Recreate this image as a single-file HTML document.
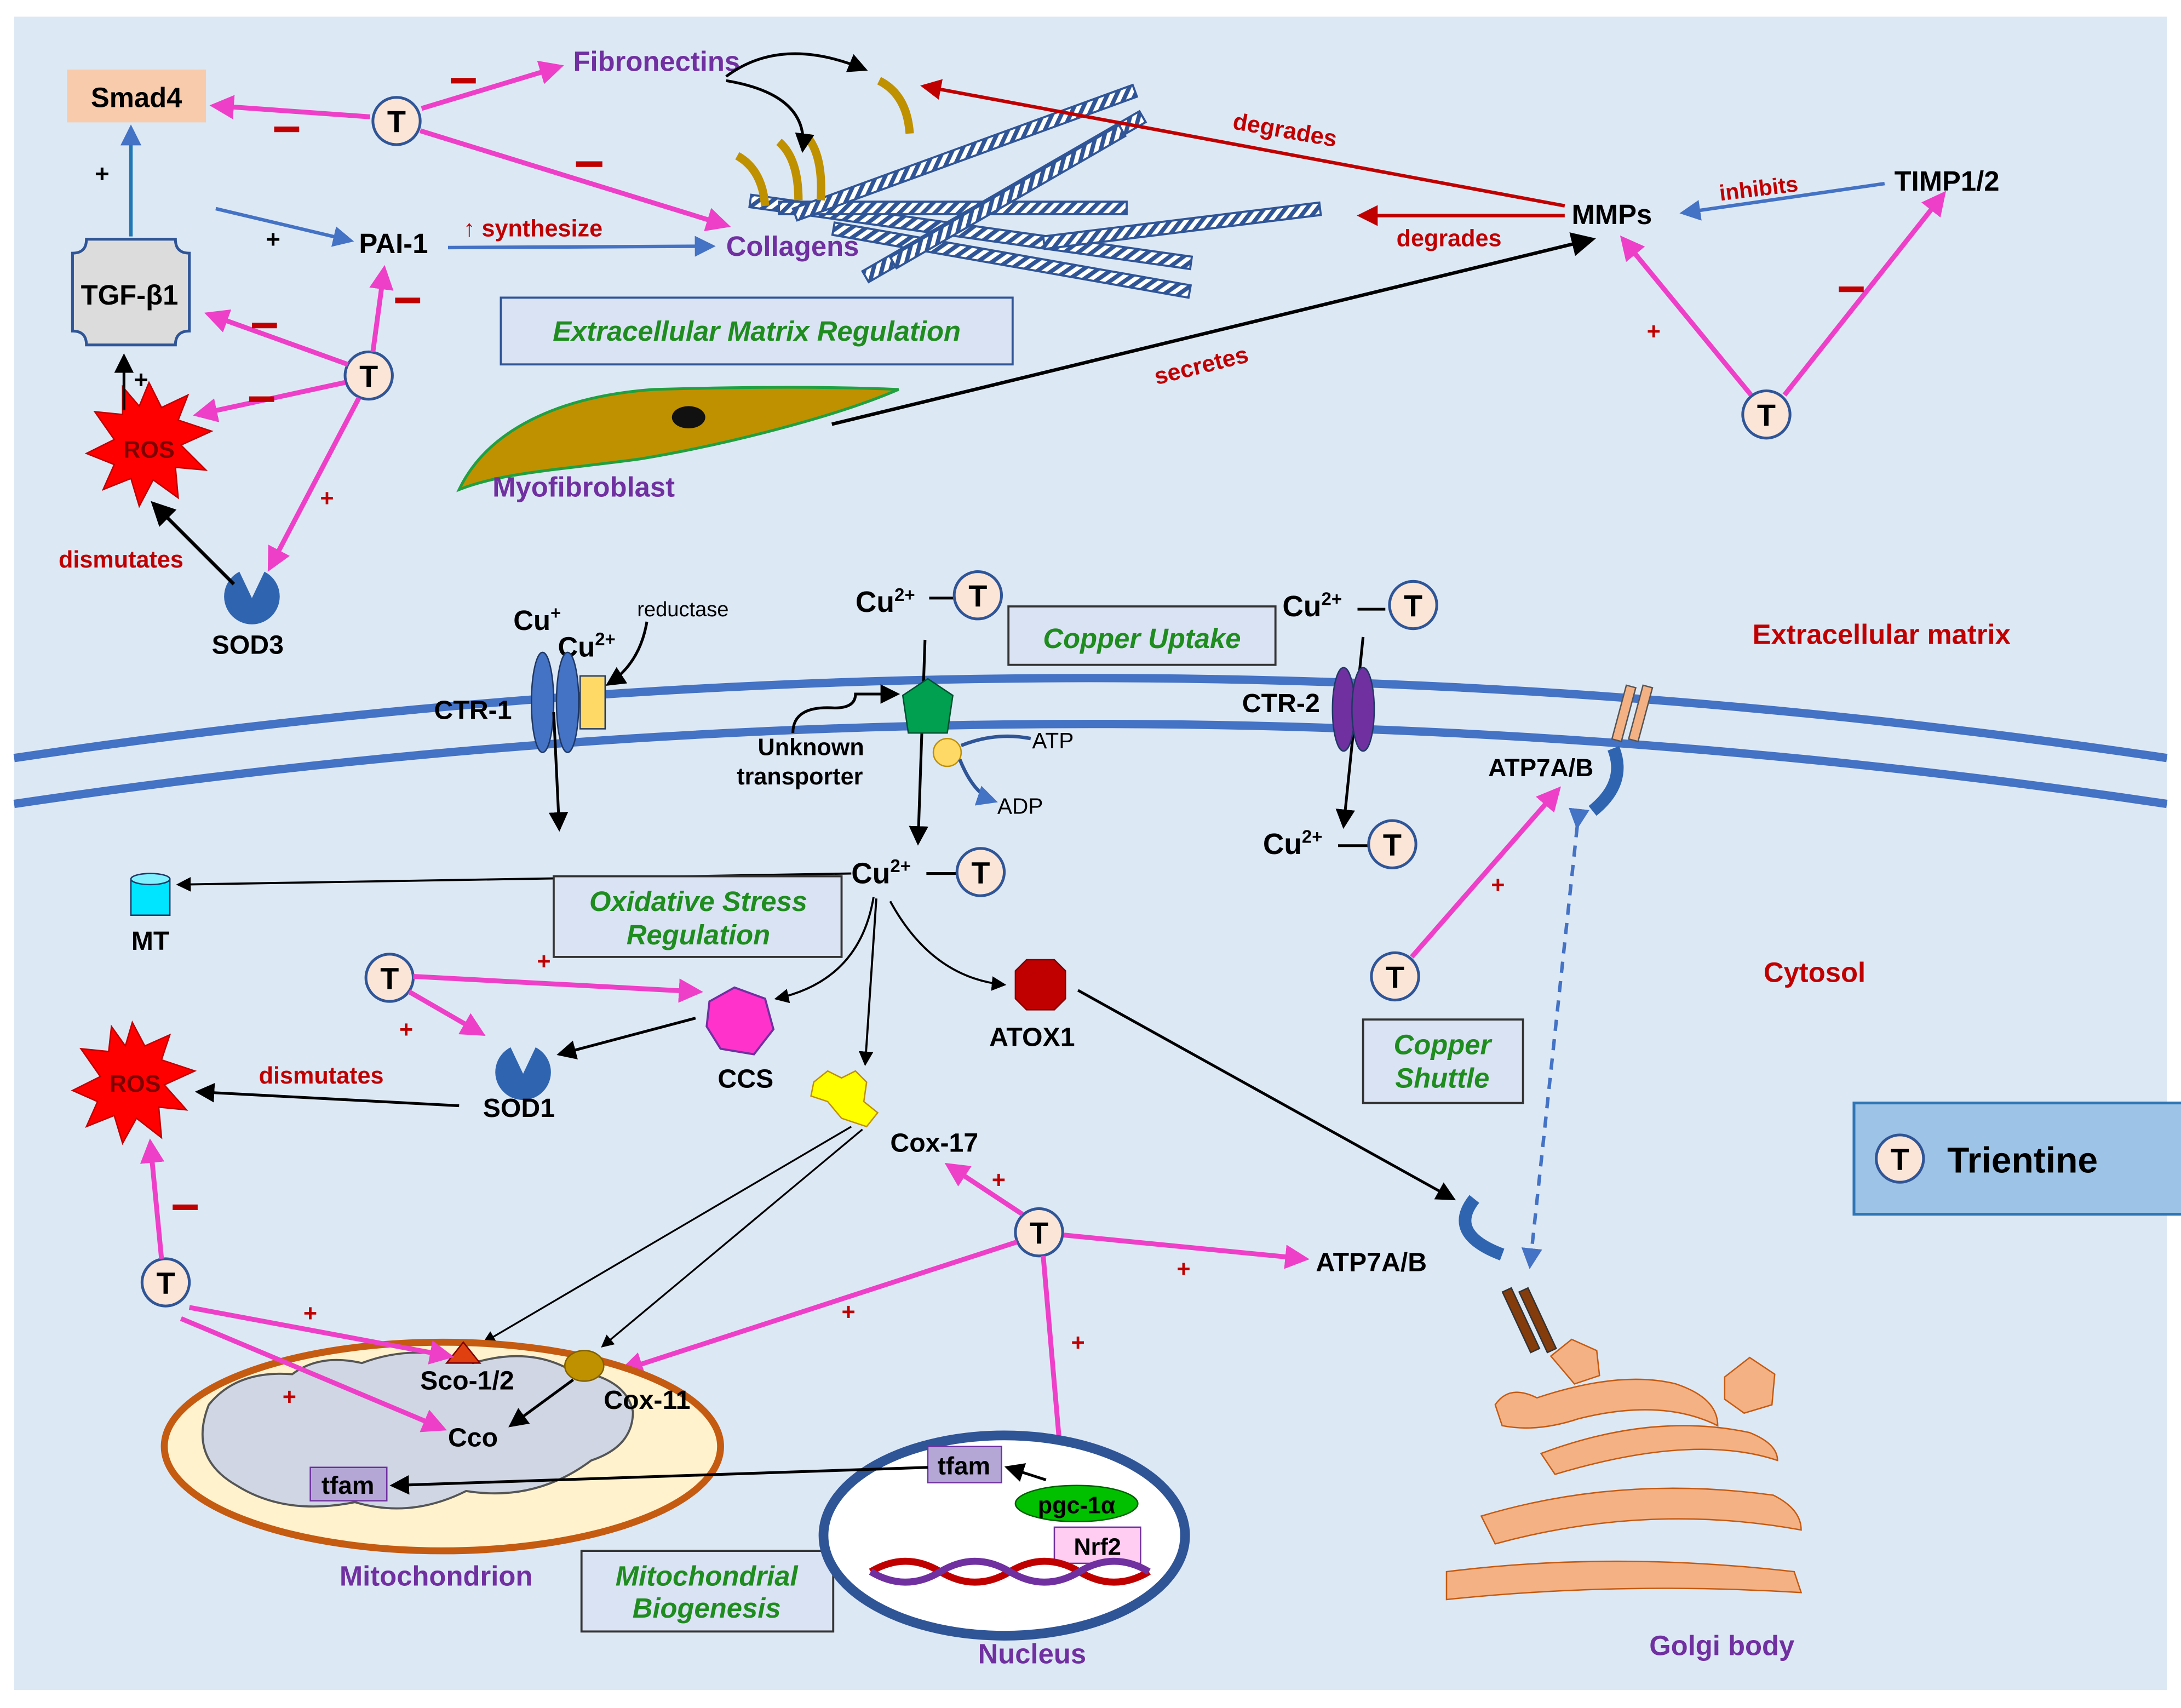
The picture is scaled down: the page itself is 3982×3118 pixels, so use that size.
<!DOCTYPE html>
<html><head><meta charset="utf-8"><style>
html,body{margin:0;padding:0;background:#fff}
svg{display:block}
text{font-family:"Liberation Sans",sans-serif}
.b{font-weight:bold}
.pk{stroke:#ee3fc8;stroke-width:3.5;fill:none}
.bk{stroke:#000;stroke-width:2;fill:none}
.bl{stroke:#4472c4;stroke-width:2.5;fill:none}
.rd{stroke:#c00000;stroke-width:2.5;fill:none}
.pur{fill:#7030a0;font-weight:bold}
.red{fill:#c00000;font-weight:bold}
.grn{fill:#1f8c1f;font-weight:bold;font-style:italic}
.minus{stroke:#c00000;stroke-width:4}
</style></head><body>
<svg width="3982" height="3118" viewBox="0 0 1568 1228" xmlns="http://www.w3.org/2000/svg">
<defs>
<marker id="ap" markerWidth="5" markerHeight="5" refX="4" refY="2.5" orient="auto" markerUnits="strokeWidth"><path d="M0,0 L5,2.5 L0,5 z" fill="#ee3fc8"/></marker>
<marker id="ab" markerWidth="7" markerHeight="7" refX="6" refY="3.5" orient="auto" markerUnits="strokeWidth"><path d="M0,0 L7,3.5 L0,7 z" fill="#000"/></marker>
<marker id="abl" markerWidth="6" markerHeight="6" refX="5" refY="3" orient="auto" markerUnits="strokeWidth"><path d="M0,0 L6,3 L0,6 z" fill="#4472c4"/></marker>
<marker id="ar" markerWidth="6" markerHeight="6" refX="5" refY="3" orient="auto" markerUnits="strokeWidth"><path d="M0,0 L6,3 L0,6 z" fill="#c00000"/></marker>
<pattern id="str" width="6" height="6" patternUnits="userSpaceOnUse" patternTransform="rotate(45)"><rect width="6" height="6" fill="#fff"/><rect width="3" height="6" fill="#2f5597"/></pattern>
<g id="T"><circle r="17" fill="#fbe5d6" stroke="#2f5597" stroke-width="2"/><text y="8" text-anchor="middle" font-size="22" class="b">T</text></g>
</defs>
<rect x="0" y="0" width="1568" height="1228" fill="#fff"/>
<rect x="10" y="12" width="1548" height="1203" fill="#dde8f5"/>

<path d="M10,545 Q784,430 1558,545" stroke="#4472c4" stroke-width="6" fill="none"/>
<path d="M10,578 Q784,463 1558,578" stroke="#4472c4" stroke-width="6" fill="none"/>

<rect x="48" y="50" width="100" height="38" fill="#f8cbad"/>
<text x="98" y="77" text-anchor="middle" font-size="20" class="b">Smad4</text>
<line x1="266" y1="84" x2="154" y2="76" class="pk" marker-end="url(#ap)"/>
<line x1="197" y1="93" x2="215" y2="93" class="minus"/>
<line x1="94" y1="170" x2="94" y2="92" stroke="#1f77b4" stroke-width="2.5" marker-end="url(#abl)"/>
<text x="68" y="131" font-size="18" class="b">+</text>
<path d="M62,172 H126 q0,10 10,10 V238 q-10,0 -10,10 H62 q0,-10 -10,-10 V182 q10,0 10,-10z" fill="#dcdcdc" stroke="#2f5597" stroke-width="2"/>
<text x="93" y="219" text-anchor="middle" font-size="20" class="b">TGF-β1</text>
<line x1="155" y1="150" x2="252" y2="173" class="bl" marker-end="url(#abl)"/>
<text x="191" y="178" font-size="18" class="b">+</text>
<text x="258" y="182" font-size="20" class="b">PAI-1</text>
<line x1="322" y1="178" x2="512" y2="177" class="bl" marker-end="url(#abl)"/>
<text x="333" y="170" font-size="17" class="red">↑ synthesize</text>
<text x="522" y="184" font-size="20" class="pur">Collagens</text>
<text x="412" y="51" font-size="20" class="pur">Fibronectins</text>
<use href="#T" x="285" y="87"/>
<line x1="303" y1="78" x2="402" y2="48" class="pk" marker-end="url(#ap)"/>
<line x1="324" y1="58" x2="342" y2="58" class="minus"/>
<line x1="302" y1="94" x2="522" y2="162" class="pk" marker-end="url(#ap)"/>
<line x1="414" y1="118" x2="433" y2="118" class="minus"/>

<use href="#T" x="265" y="270"/>
<line x1="250" y1="262" x2="150" y2="226" class="pk" marker-end="url(#ap)"/>
<line x1="181" y1="234" x2="199" y2="234" class="minus"/>
<line x1="248" y1="275" x2="142" y2="298" class="pk" marker-end="url(#ap)"/>
<line x1="179" y1="287" x2="197" y2="287" class="minus"/>
<line x1="268" y1="253" x2="276" y2="194" class="pk" marker-end="url(#ap)"/>
<line x1="284" y1="216" x2="302" y2="216" class="minus"/>
<line x1="258" y1="286" x2="194" y2="408" class="pk" marker-end="url(#ap)"/>
<text x="230" y="364" font-size="17" class="red">+</text>

<polygon points="107,275 116,293 135,284 128,302 152,310 130,320 148,338 126,336 128,358 110,345 100,364 94,344 74,352 82,334 62,326 82,316 68,296 88,298 88,278 100,292" fill="#ff0000" stroke="#c00000"/>
<text x="107" y="329" text-anchor="middle" font-size="17" class="b" fill="#7f0000">ROS</text>
<line x1="89" y1="295" x2="89" y2="256" class="bk" marker-end="url(#ab)"/>
<text x="96" y="279" font-size="18" class="b">+</text>
<path d="M181,430 L172,411 A20,20 0 1,0 190,411 Z" fill="#2f65b0"/>
<text x="178" y="470" text-anchor="middle" font-size="19" class="b">SOD3</text>
<line x1="168" y1="420" x2="110" y2="362" stroke="#000" stroke-width="2.5" marker-end="url(#ab)"/>
<text x="42" y="408" font-size="17" class="red">dismutates</text>

<g stroke="#2f5597" stroke-width="1.5" fill="url(#str)">
<rect x="540" y="140" width="320" height="9" transform="rotate(8 540 140)"/>
<rect x="600" y="160" width="260" height="9" transform="rotate(10 600 160)"/>
<rect x="560" y="145" width="250" height="9"/>
<rect x="570" y="150" width="260" height="9" transform="rotate(-20 570 150)"/>
<rect x="620" y="195" width="230" height="9" transform="rotate(-30 620 195)"/>
<rect x="640" y="185" width="190" height="9" transform="rotate(-30 640 185)"/>
<rect x="750" y="170" width="200" height="9" transform="rotate(-7 750 170)"/>
</g>
<g stroke="#bf9000" stroke-width="6" fill="none">
<path d="M632,58 q20,10 22,38"/><path d="M530,112 q18,10 20,36"/><path d="M560,102 q14,12 14,42"/><path d="M580,98 q12,14 10,46"/>
</g>
<path d="M522,55 q40,-30 100,-5" class="bk" marker-end="url(#ab)"/>
<path d="M522,58 q60,10 55,50" class="bk" marker-end="url(#ab)"/>
<line x1="1125" y1="148" x2="664" y2="62" class="rd" marker-end="url(#ar)"/>
<text x="885" y="100" font-size="17" class="red" transform="rotate(10 928 100)">degrades</text>
<line x1="1125" y1="155" x2="978" y2="155" class="rd" marker-end="url(#ar)"/>
<text x="1004" y="177" font-size="17" class="red">degrades</text>
<text x="1130" y="161" font-size="20" class="b">MMPs</text>
<text x="1362" y="137" font-size="20" class="b">TIMP1/2</text>
<line x1="1355" y1="132" x2="1210" y2="153" class="bl" marker-end="url(#abl)"/>
<text x="1236" y="140" font-size="16" class="red" transform="rotate(-7 1272 135)">inhibits</text>
<use href="#T" x="1270" y="298"/>
<line x1="1259" y1="284" x2="1167" y2="172" class="pk" marker-end="url(#ap)"/>
<text x="1184" y="244" font-size="17" class="red">+</text>
<line x1="1283" y1="284" x2="1397" y2="140" class="pk" marker-end="url(#ap)"/>
<line x1="1322" y1="208" x2="1340" y2="208" class="minus"/>
<line x1="598" y1="305" x2="1145" y2="172" stroke="#000" stroke-width="2.5" marker-end="url(#ab)"/>
<text x="828" y="268" font-size="17" class="red" transform="rotate(-14 865 258)">secretes</text>
<path d="M330,352 C350,310 400,285 470,280 C540,278 600,278 646,280 C600,300 520,320 460,330 C400,338 360,340 330,352z" fill="#bf9000" stroke="#20a040" stroke-width="2"/>
<ellipse cx="495" cy="300" rx="12" ry="8" fill="#111"/>
<text x="354" y="357" font-size="20" class="pur">Myofibroblast</text>
<rect x="360" y="214" width="368" height="48" fill="#dae3f3" stroke="#2f5597" stroke-width="1.5"/>
<text x="544" y="245" text-anchor="middle" font-size="20" class="grn">Extracellular Matrix Regulation</text>

<text x="369" y="453" font-size="20" class="b">Cu<tspan dy="-8" font-size="13">+</tspan></text>
<text x="401" y="472" font-size="20" class="b">Cu<tspan dy="-8" font-size="13">2+</tspan></text>
<text x="458" y="443" font-size="15">reductase</text>
<path d="M465,447 q-5,30 -28,45" class="bk" marker-end="url(#ab)"/>
<ellipse cx="390" cy="505" rx="8" ry="36" fill="#4472c4" stroke="#1f3864"/>
<ellipse cx="408" cy="505" rx="8" ry="36" fill="#4472c4" stroke="#1f3864"/>
<rect x="417" y="486" width="18" height="38" fill="#ffd966" stroke="#1f3864"/>
<text x="312" y="517" font-size="19" class="b">CTR-1</text>
<line x1="398" y1="512" x2="402" y2="596" class="bk" marker-end="url(#ab)"/>
<text x="615" y="440" font-size="21" class="b">Cu<tspan dy="-8" font-size="13">2+</tspan></text>
<line x1="668" y1="430" x2="686" y2="430" stroke="#000" stroke-width="2"/>
<use href="#T" x="703" y="428"/>
<line x1="665" y1="460" x2="660" y2="606" class="bk" marker-end="url(#ab)"/>
<polygon points="667,488 685,500 681,527 653,527 649,500" fill="#00a050" stroke="#005030"/>
<circle cx="681" cy="541" r="10" fill="#ffd966" stroke="#bf9000"/>
<path d="M691,536 q25,-10 50,-5" stroke="#2f5597" stroke-width="2.5" fill="none"/>
<path d="M690,546 q10,25 25,30" stroke="#2f5597" stroke-width="2.5" fill="none" marker-end="url(#abl)"/>
<text x="742" y="538" font-size="16">ATP</text>
<text x="717" y="585" font-size="16">ADP</text>
<text x="583" y="543" text-anchor="middle" font-size="17" class="b">Unknown</text>
<text x="575" y="564" text-anchor="middle" font-size="17" class="b">transporter</text>
<path d="M570,527 q0,-20 30,-18 q15,0 15,-10 l30,0" class="bk" marker-end="url(#ab)"/>
<rect x="725" y="436" width="192" height="42" fill="#dae3f3" stroke="#333" stroke-width="1.5"/>
<text x="821" y="466" text-anchor="middle" font-size="20" class="grn">Copper Uptake</text>
<text x="922" y="443" font-size="21" class="b">Cu<tspan dy="-8" font-size="13">2+</tspan></text>
<line x1="976" y1="438" x2="996" y2="438" stroke="#000" stroke-width="2"/>
<use href="#T" x="1016" y="435"/>
<line x1="980" y1="458" x2="966" y2="594" class="bk" marker-end="url(#ab)"/>
<text x="893" y="512" font-size="19" class="b">CTR-2</text>
<ellipse cx="966" cy="510" rx="8" ry="30" fill="#7030a0" stroke="#1f3864"/>
<ellipse cx="980" cy="510" rx="8" ry="30" fill="#7030a0" stroke="#1f3864"/>
<text x="908" y="614" font-size="21" class="b">Cu<tspan dy="-8" font-size="13">2+</tspan></text>
<line x1="962" y1="608" x2="984" y2="608" stroke="#000" stroke-width="2"/>
<use href="#T" x="1001" y="607"/>
<rect x="1164" y="493" width="7" height="40" fill="#f4b183" stroke="#555" transform="rotate(15 1168 513)"/>
<rect x="1176" y="493" width="7" height="40" fill="#f4b183" stroke="#555" transform="rotate(15 1180 513)"/>
<path d="M1160,538 q10,25 -15,45" stroke="#2f65b0" stroke-width="9" fill="none"/>
<text x="1070" y="558" font-size="18" class="b">ATP7A/B</text>
<text x="1260" y="463" font-size="20" class="red" fill="#e00000">Extracellular matrix</text>
<text x="1268" y="706" font-size="20" class="red" fill="#e00000">Cytosol</text>

<text x="612" y="635" font-size="21" class="b">Cu<tspan dy="-8" font-size="13">2+</tspan></text>
<line x1="666" y1="628" x2="688" y2="628" stroke="#000" stroke-width="2"/>
<use href="#T" x="705" y="627"/>
<line x1="612" y1="628" x2="128" y2="636" stroke="#000" stroke-width="1.5" marker-end="url(#ab)"/>
<rect x="94" y="632" width="28" height="26" fill="#00e5ff" stroke="#1f3864"/>
<ellipse cx="108" cy="632" rx="14" ry="4" fill="#80f0ff" stroke="#1f3864"/>
<text x="108" y="683" text-anchor="middle" font-size="19" class="b">MT</text>
<rect x="398" y="630" width="207" height="58" fill="#dae3f3" stroke="#333" stroke-width="1.5"/>
<text x="502" y="655" text-anchor="middle" font-size="20" class="grn">Oxidative Stress</text>
<text x="502" y="679" text-anchor="middle" font-size="20" class="grn">Regulation</text>
<path d="M628,645 q-10,60 -70,73" stroke="#000" stroke-width="1.5" fill="none" marker-end="url(#ab)"/>
<path d="M640,648 q30,55 82,60" stroke="#000" stroke-width="1.5" fill="none" marker-end="url(#ab)"/>
<line x1="630" y1="646" x2="622" y2="765" stroke="#000" stroke-width="1.5" marker-end="url(#ab)"/>
<use href="#T" x="280" y="703"/>
<line x1="297" y1="702" x2="502" y2="713" class="pk" marker-end="url(#ap)"/>
<text x="386" y="697" font-size="17" class="red">+</text>
<line x1="294" y1="713" x2="346" y2="743" class="pk" marker-end="url(#ap)"/>
<text x="287" y="746" font-size="17" class="red">+</text>
<path d="M510,720 l18,-10 22,8 6,22 -14,18 -24,-4 -10,-16z" fill="#ff33cc" stroke="#7030a0" stroke-width="1.5"/>
<text x="536" y="782" text-anchor="middle" font-size="19" class="b">CCS</text>
<path d="M376,772 L367,753 A20,20 0 1,0 385,753 Z" fill="#2f65b0"/>
<text x="373" y="803" text-anchor="middle" font-size="19" class="b">SOD1</text>
<line x1="500" y1="732" x2="402" y2="758" class="bk" marker-end="url(#ab)"/>
<polygon points="95,735 104,752 122,744 116,762 140,770 118,780 134,798 114,796 116,818 98,804 88,822 82,802 62,810 70,792 52,784 72,774 58,754 78,756 80,738 90,752" fill="#ff0000" stroke="#c00000"/>
<text x="97" y="785" text-anchor="middle" font-size="17" class="b" fill="#7f0000">ROS</text>
<line x1="330" y1="795" x2="142" y2="785" stroke="#000" stroke-width="2" marker-end="url(#ab)"/>
<text x="186" y="779" font-size="17" class="red">dismutates</text>
<use href="#T" x="119" y="922"/>
<line x1="116" y1="905" x2="108" y2="822" class="pk" marker-end="url(#ap)"/>
<line x1="124" y1="868" x2="142" y2="868" class="minus"/>
<polygon points="738,690 758,690 766,698 766,718 758,726 738,726 730,718 730,698" fill="#c00000" stroke="#7f0000"/>
<text x="742" y="752" text-anchor="middle" font-size="19" class="b">ATOX1</text>
<line x1="775" y1="712" x2="1045" y2="862" stroke="#000" stroke-width="2" marker-end="url(#ab)"/>
<path d="M585,778 l10,-8 10,5 10,-5 8,8 -2,14 10,8 -8,10 -18,-6 -10,-12 -12,-4z" fill="#ffff00" stroke="#bf9000"/>
<text x="640" y="828" font-size="19" class="b">Cox-17</text>
<line x1="612" y1="810" x2="348" y2="965" stroke="#000" stroke-width="1.3" marker-end="url(#ab)"/>
<line x1="620" y1="812" x2="433" y2="968" stroke="#000" stroke-width="1.3" marker-end="url(#ab)"/>
<use href="#T" x="747" y="886"/>
<line x1="735" y1="873" x2="682" y2="838" class="pk" marker-end="url(#ap)"/>
<text x="713" y="854" font-size="17" class="red">+</text>
<line x1="765" y1="888" x2="938" y2="905" class="pk" marker-end="url(#ap)"/>
<text x="846" y="918" font-size="17" class="red">+</text>
<line x1="731" y1="893" x2="448" y2="985" class="pk" marker-end="url(#ap)"/>
<text x="605" y="949" font-size="17" class="red">+</text>
<line x1="750" y1="903" x2="764" y2="1064" class="pk" marker-end="url(#ap)"/>
<text x="770" y="971" font-size="17" class="red">+</text>
<text x="946" y="914" font-size="19" class="b">ATP7A/B</text>
<rect x="980" y="733" width="115" height="60" fill="#dae3f3" stroke="#333" stroke-width="1.5"/>
<text x="1037" y="758" text-anchor="middle" font-size="20" class="grn">Copper</text>
<text x="1037" y="782" text-anchor="middle" font-size="20" class="grn">Shuttle</text>
<use href="#T" x="1003" y="702"/>
<line x1="1015" y1="688" x2="1120" y2="568" class="pk" marker-end="url(#ap)"/>
<text x="1072" y="642" font-size="17" class="red">+</text>
<line x1="1134" y1="594" x2="1100" y2="910" stroke="#4472c4" stroke-width="2.5" stroke-dasharray="8,6" marker-end="url(#abl)" marker-start="url(#abl)"/>
<rect x="1333" y="793" width="238" height="80" fill="#9dc3e6" stroke="#2e75b6" stroke-width="2"/>
<use href="#T" x="1366" y="833"/>
<text x="1400" y="843" font-size="26" class="b">Trientine</text>

<path d="M1060,862 q-20,25 20,40" stroke="#2f65b0" stroke-width="9" fill="none"/>
<rect x="1090" y="925" width="7" height="48" fill="#843c0c" stroke="#333" transform="rotate(-25 1094 949)"/>
<rect x="1102" y="925" width="7" height="48" fill="#843c0c" stroke="#333" transform="rotate(-25 1106 949)"/>
<g fill="#f4b183" stroke="#c55a11" stroke-width="1">
<path d="M1115,975 l15,-12 18,8 2,18 -18,6z"/>
<path d="M1240,990 l18,-14 18,12 -2,22 -20,6 -14,-10z"/>
<path d="M1075,1010 q10,-15 30,-5 q60,-20 100,-10 q30,10 30,30 q-40,-20 -100,-5 q-30,10 -55,5z"/>
<path d="M1108,1045 q80,-30 150,-15 q20,8 20,20 q-60,-20 -160,10z"/>
<path d="M1065,1090 q100,-30 210,-15 q20,10 20,25 q-110,-20 -220,10z"/>
<path d="M1040,1130 q120,-15 250,0 l5,15 q-130,-8 -255,5z"/>
</g>
<text x="1238" y="1190" text-anchor="middle" font-size="20" class="pur">Golgi body</text>

<ellipse cx="318" cy="1040" rx="200" ry="75" fill="#fff2cc" stroke="#c55a11" stroke-width="5"/>
<path d="M150,1010 q20,-25 60,-22 q20,-15 50,-8 q40,-15 80,0 q40,-12 70,5 q40,5 45,30 q0,25 -30,35 q-40,30 -90,22 q-40,20 -80,8 q-50,10 -85,-12 q-35,-20 -20,-58z" fill="#d0d6e3" stroke="#555" stroke-width="1.5"/>
<polygon points="333,965 345,980 321,980" fill="#e04010" stroke="#7f0000"/>
<text x="302" y="999" font-size="19" class="b">Sco-1/2</text>
<ellipse cx="420" cy="982" rx="14" ry="11" fill="#bf9000" stroke="#7f6000"/>
<text x="434" y="1013" font-size="19" class="b">Cox-11</text>
<line x1="412" y1="992" x2="367" y2="1025" class="bk" marker-end="url(#ab)"/>
<text x="322" y="1040" font-size="19" class="b">Cco</text>
<line x1="136" y1="940" x2="323" y2="975" class="pk" marker-end="url(#ap)"/>
<text x="218" y="950" font-size="17" class="red">+</text>
<line x1="130" y1="948" x2="318" y2="1027" class="pk" marker-end="url(#ap)"/>
<text x="203" y="1010" font-size="17" class="red">+</text>
<rect x="223" y="1055" width="55" height="24" fill="#b4a7d6" stroke="#7030a0"/>
<text x="250" y="1074" text-anchor="middle" font-size="18" class="b">tfam</text>
<text x="244" y="1140" font-size="20" class="pur">Mitochondrion</text>
<rect x="418" y="1115" width="181" height="58" fill="#dae3f3" stroke="#333" stroke-width="1.5"/>
<text x="508" y="1140" text-anchor="middle" font-size="20" class="grn">Mitochondrial</text>
<text x="508" y="1163" text-anchor="middle" font-size="20" class="grn">Biogenesis</text>

<ellipse cx="722" cy="1104" rx="130" ry="72" fill="#fff" stroke="#2f5597" stroke-width="7"/>
<rect x="667" y="1040" width="53" height="26" fill="#b4a7d6" stroke="#7030a0"/>
<text x="693" y="1060" text-anchor="middle" font-size="18" class="b">tfam</text>
<line x1="667" y1="1055" x2="282" y2="1068" class="bk" marker-end="url(#ab)"/>
<ellipse cx="774" cy="1081" rx="44" ry="13" fill="#00c000" stroke="#006000"/>
<text x="774" y="1088" text-anchor="middle" font-size="17" class="b">pgc-1α</text>
<line x1="752" y1="1064" x2="724" y2="1055" class="bk" marker-end="url(#ab)"/>
<rect x="758" y="1098" width="62" height="26" fill="#ffccf2" stroke="#7030a0"/>
<text x="789" y="1118" text-anchor="middle" font-size="17" class="b">Nrf2</text>
<path d="M626,1130 q25,-15 50,0 t50,0 t50,0 t50,0" stroke="#c00000" stroke-width="5" fill="none"/>
<path d="M626,1130 q25,15 50,0 t50,0 t50,0 t50,0" stroke="#7030a0" stroke-width="5" fill="none"/>
<text x="742" y="1196" text-anchor="middle" font-size="20" class="pur">Nucleus</text>
</svg>
</body></html>
